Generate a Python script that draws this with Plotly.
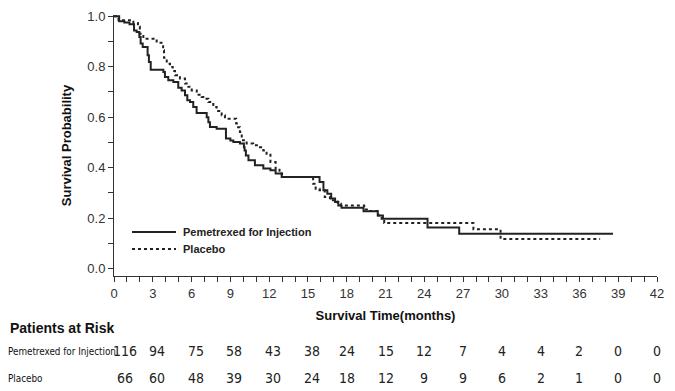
import plotly.graph_objects as go

# Kaplan-Meier step data (months, survival probability)
pem_time = [0, 0.4, 0.8, 1.2, 1.55, 1.75, 1.96, 2.06, 2.22, 2.6, 2.7, 2.84, 3.82, 3.94, 4.2, 4.59,
            4.97, 5.23, 5.49, 5.67, 5.88, 6.13, 6.39, 7.17, 7.3, 7.42, 7.94, 8.66, 9.0, 9.23, 9.74,
            10.05, 10.1, 10.2, 10.4, 10.9, 11.55, 12.1, 12.5, 12.97, 15.9, 16.2, 16.5, 16.8, 17.1,
            17.35, 17.6, 19.3, 20.4, 20.8, 24.25, 26.7, 38.6]
pem_surv = [1.0, 0.98, 0.975, 0.968, 0.944, 0.938, 0.918, 0.892, 0.878, 0.845, 0.819, 0.788, 0.779,
            0.759, 0.746, 0.739, 0.717, 0.706, 0.687, 0.667, 0.66, 0.64, 0.616, 0.6, 0.58, 0.561,
            0.554, 0.515, 0.507, 0.501, 0.495, 0.481, 0.468, 0.448, 0.429, 0.409, 0.396, 0.389,
            0.376, 0.363, 0.343, 0.31, 0.296, 0.277, 0.263, 0.25, 0.241, 0.227, 0.21, 0.197, 0.162,
            0.138, 0.138]

pla_time = [0, 0.35, 1.5, 1.85, 2.0, 2.27, 3.3, 3.8, 3.87, 4.08, 4.33, 4.54, 4.72, 5.1, 5.49, 5.75,
            6.01, 6.4, 6.78, 7.04, 7.3, 7.68, 7.94, 8.33, 8.58, 9.45, 9.6, 9.74, 9.88, 10.26, 10.77,
            11.29, 11.55, 11.8, 12.1, 12.5, 12.8, 13.0, 15.4, 15.6, 15.9, 16.3, 16.7, 17.3, 17.55,
            19.35, 19.8, 20.45, 20.7, 20.9, 27.8, 29.9, 37.6]
pla_surv = [1.0, 0.984, 0.973, 0.958, 0.931, 0.911, 0.895, 0.865, 0.835, 0.812, 0.799, 0.783, 0.766,
            0.753, 0.733, 0.72, 0.706, 0.689, 0.68, 0.673, 0.66, 0.64, 0.624, 0.607, 0.594, 0.575,
            0.56, 0.541, 0.508, 0.495, 0.488, 0.481, 0.468, 0.455, 0.422, 0.396, 0.376, 0.363,
            0.336, 0.316, 0.31, 0.283, 0.27, 0.257, 0.25, 0.234, 0.228, 0.21, 0.197, 0.18, 0.155,
            0.117, 0.117]

risk_times = [0, 3, 6, 9, 12, 15, 18, 21, 24, 27, 30, 33, 36, 39, 42]
risk_pem = [116, 94, 75, 58, 43, 38, 24, 15, 12, 7, 4, 4, 2, 0, 0]
risk_pla = [66, 60, 48, 39, 30, 24, 18, 12, 9, 9, 6, 2, 1, 0, 0]

series_names = ["Pemetrexed for Injection", "Placebo"]
y_ticks = [round(i * 0.1, 1) for i in range(11)]
y_ticktext = [f"{v:.1f}" if i % 2 == 0 else "" for i, v in enumerate(y_ticks)]

AX = "#333333"
FONT = "Liberation Sans, Arial, sans-serif"
NARROW = "DejaVu Sans Condensed, Liberation Sans Narrow, Arial Narrow, sans-serif"

# page body has an 8px margin: design in window pixels, then offset
OFF = 8
W, H = 675 - OFF, 391 - OFF
PL, PR, PT, PB = 114, 657, 15, 276   # plot area in window pixels


def px2x(px):
    return (px - PL) / (PR - PL)


def py2y(py):
    return (PB - py) / (PB - PT)


fig = go.Figure()
fig.add_trace(go.Scatter(x=pem_time, y=pem_surv, mode="lines", line_shape="hv",
                         line=dict(color="#222222", width=2), name=series_names[0]))
fig.add_trace(go.Scatter(x=pla_time, y=pla_surv, mode="lines", line_shape="hv",
                         line=dict(color="#222222", width=2, dash="dot"), name=series_names[1]))

ann = []
shapes = []
# legend drawn inside plot
for i, (nm, dash) in enumerate(zip(series_names, ["solid", "dot"])):
    py = 232 + 17 * i
    shapes.append(dict(type="line", xref="paper", yref="paper", x0=px2x(132), x1=px2x(176),
                       y0=py2y(py), y1=py2y(py), line=dict(color="#222", width=2, dash=dash)))
    ann.append(dict(text=f"<b>{nm}</b>", xref="paper", yref="paper", x=px2x(181), y=py2y(py),
                    xanchor="left", yanchor="middle", showarrow=False,
                    font=dict(family=FONT, size=11, color="#222")))

ann.append(dict(text="<b>Patients at Risk</b>", xref="paper", yref="paper",
                x=px2x(8), y=py2y(328), xanchor="left", yanchor="middle",
                showarrow=False, font=dict(family=FONT, size=14, color="#111")))
rows = [(series_names[0], risk_pem, 351), (series_names[1], risk_pla, 378)]
for label, vals, py in rows:
    ann.append(dict(text=label, xref="paper", yref="paper", x=px2x(6), y=py2y(py),
                    xanchor="left", yanchor="middle", showarrow=False,
                    font=dict(family=NARROW, size=9.8, color="#111")))
    for i, (t, v) in enumerate(zip(risk_times, vals)):
        shift = 11 if i == 0 else (4 if t <= 15 else 0)
        ann.append(dict(text=str(v), xref="x", yref="paper", x=t, y=py2y(py),
                        xanchor="center", yanchor="middle", showarrow=False, xshift=shift,
                        font=dict(family=NARROW, size=14, color="#222")))

fig.update_layout(
    width=W, height=H,
    margin=dict(l=PL - OFF, r=W - (PR - OFF), t=PT - OFF, b=H - (PB - OFF), autoexpand=False),
    paper_bgcolor="white", plot_bgcolor="white",
    font=dict(family=FONT, color=AX),
    showlegend=False,
    annotations=ann,
    shapes=shapes,
    xaxis=dict(range=[0, 42], tickmode="array", tickvals=risk_times, ticks="outside",
               ticklen=5, tickcolor=AX, showline=True, linecolor=AX, linewidth=1,
               showgrid=False, zeroline=False, tickfont=dict(family=FONT, size=13, color=AX),
               minor=dict(dtick=1, tick0=0, ticks="outside", ticklen=5, tickcolor=AX, showgrid=False),
               title=dict(text="<b>Survival Time(months)</b>", standoff=11,
                          font=dict(family=FONT, size=13, color="#111"))),
    yaxis=dict(range=[-0.03, 1.005], tickmode="array", tickvals=y_ticks, ticktext=y_ticktext,
               ticks="outside", ticklen=5, tickcolor=AX, showline=True, linecolor=AX, linewidth=1,
               showgrid=False, zeroline=False, tickfont=dict(family=FONT, size=13, color=AX),
               title=dict(text="<b>Survival Probability</b>", standoff=12,
                          font=dict(family=FONT, size=13, color="#111"))),
)

fig.write_html("out.html")
